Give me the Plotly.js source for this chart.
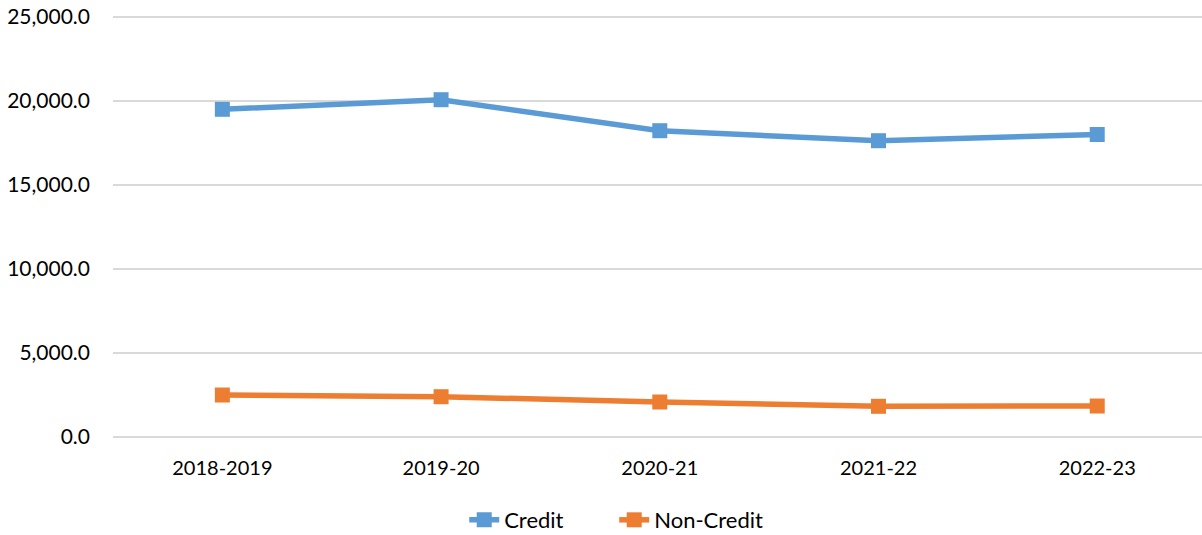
<!DOCTYPE html>
<html>
<head>
<meta charset="utf-8">
<script src="https://cdn.plot.ly/plotly-3.0.1.min.js"></script>
<style>html,body{margin:0;padding:0;background:#fff;}#chart{width:1202px;height:535px;}</style>
</head>
<body>
<div id="chart"></div>
<script>
var years = ["2018-2019", "2019-20", "2020-21", "2021-22", "2022-23"];
var credit = [19476, 20048, 18202, 17607, 17976];
var nonCredit = [2470, 2369, 2054, 1798, 1815];

var FONT = "Lato, 'Liberation Sans', sans-serif";

var traces = [
  {
    x: years, y: credit, name: "Credit", type: "scatter", mode: "lines+markers",
    line: {color: "#5B9BD5", width: 5.5},
    marker: {symbol: "square", size: 15, color: "#5B9BD5"}
  },
  {
    x: years, y: nonCredit, name: "Non-Credit", type: "scatter", mode: "lines+markers",
    line: {color: "#ED7D31", width: 5.5},
    marker: {symbol: "square", size: 15, color: "#ED7D31"}
  }
];

var layout = {
  width: 1202, height: 535,
  margin: {l: 113, r: 0, t: 10, b: 95},
  paper_bgcolor: "#fff", plot_bgcolor: "#fff",
  font: {family: FONT, size: 20, color: "#000"},
  showlegend: true,
  xaxis: {
    type: "category",
    range: [-0.5, 4.479],
    showgrid: false, zeroline: false, showline: false,
    ticks: "", ticklabelstandoff: 14,
    tickfont: {family: FONT, size: 20, color: "#000"},
    fixedrange: true
  },
  yaxis: {
    range: [-208, 25387],
    tickvals: [0, 5000, 10000, 15000, 20000, 25000],
    tickformat: ",.1f",
    showgrid: true, gridcolor: "#d9d9d9", gridwidth: 2,
    zeroline: false, showline: false, ticks: "",
    ticklabelstandoff: 22,
    tickfont: {family: FONT, size: 21, color: "#000"},
    fixedrange: true
  },
  legend: {
    orientation: "h",
    xref: "container", yref: "container",
    x: 0.511, xanchor: "center",
    y: 0.028, yanchor: "middle",
    entrywidth: 105, entrywidthmode: "pixels",
    font: {family: FONT, size: 22, color: "#000"},
    bgcolor: "rgba(0,0,0,0)"
  }
};

Plotly.newPlot("chart", traces, layout, {displayModeBar: false, staticPlot: true});
</script>
</body>
</html>
